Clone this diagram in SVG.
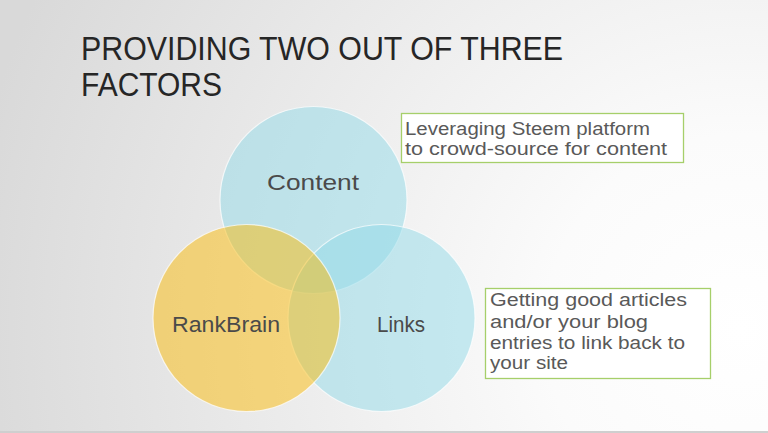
<svg xmlns="http://www.w3.org/2000/svg" width="768" height="433" viewBox="0 0 768 433">
<defs>
<radialGradient id="bg" gradientUnits="userSpaceOnUse" cx="740" cy="330" r="780" fx="740" fy="330">
<stop offset="0" stop-color="#ffffff"/>
<stop offset="0.25" stop-color="#fbfbfb"/>
<stop offset="1" stop-color="#d9d9d9"/>
</radialGradient>
<style>
.title{font-family:"Liberation Sans",Arial,sans-serif;font-size:34px;fill:#262626;}
.lbl{font-family:"Liberation Sans",Arial,sans-serif;font-size:22px;fill:#4a4a4a;text-anchor:middle;}
.note{font-family:"Liberation Sans",Arial,sans-serif;font-size:17.5px;fill:#595959;}
.box{fill:#ffffff;stroke:#a6cf6a;stroke-width:1.3;}
.blue{fill:#92dae8;fill-opacity:0.5;stroke:#ffffff;stroke-opacity:0.7;stroke-width:1.2;}
.yel{fill:#fbbb09;fill-opacity:0.5;stroke:#ffffff;stroke-opacity:0.7;stroke-width:1.2;}
</style>
</defs>
<rect x="0" y="0" width="768" height="433" fill="url(#bg)"/>
<rect x="0" y="431" width="768" height="2" fill="#cfcfcf"/>
<g id="title">
<text class="title" x="81" y="60" textLength="482" lengthAdjust="spacingAndGlyphs">PROVIDING TWO OUT OF THREE</text>
<text class="title" x="81" y="96" textLength="141" lengthAdjust="spacingAndGlyphs">FACTORS</text>
</g>
<g id="content">
<circle class="blue" cx="313.5" cy="200" r="93.5"/>
</g>
<g id="links">
<circle class="blue" cx="381.5" cy="318" r="93.5"/>
</g>
<g id="rankbrain">
<circle class="yel" cx="246.5" cy="318" r="93.5"/>
</g>
<g id="labels">
<text class="lbl" x="313" y="190" textLength="92" lengthAdjust="spacingAndGlyphs">Content</text>
<text class="lbl" x="226" y="332" textLength="108" lengthAdjust="spacingAndGlyphs">RankBrain</text>
<text class="lbl" x="401" y="332" textLength="48" lengthAdjust="spacingAndGlyphs">Links</text>
</g>
<g id="note-content">
<rect class="box" x="401.5" y="113.5" width="282" height="49"/>
<text class="note" x="405" y="135" textLength="245" lengthAdjust="spacingAndGlyphs">Leveraging Steem platform</text>
<text class="note" x="405" y="155" textLength="262" lengthAdjust="spacingAndGlyphs">to crowd-source for content</text>
</g>
<g id="note-links">
<rect class="box" x="485.5" y="288.5" width="225" height="90"/>
<text class="note" x="490" y="306" textLength="197" lengthAdjust="spacingAndGlyphs">Getting good articles</text>
<text class="note" x="490" y="328" textLength="158" lengthAdjust="spacingAndGlyphs">and/or your blog</text>
<text class="note" x="490" y="349" textLength="195" lengthAdjust="spacingAndGlyphs">entries to link back to</text>
<text class="note" x="490" y="369" textLength="78" lengthAdjust="spacingAndGlyphs">your site</text>
</g>
<g id="connectors"></g>
</svg>
